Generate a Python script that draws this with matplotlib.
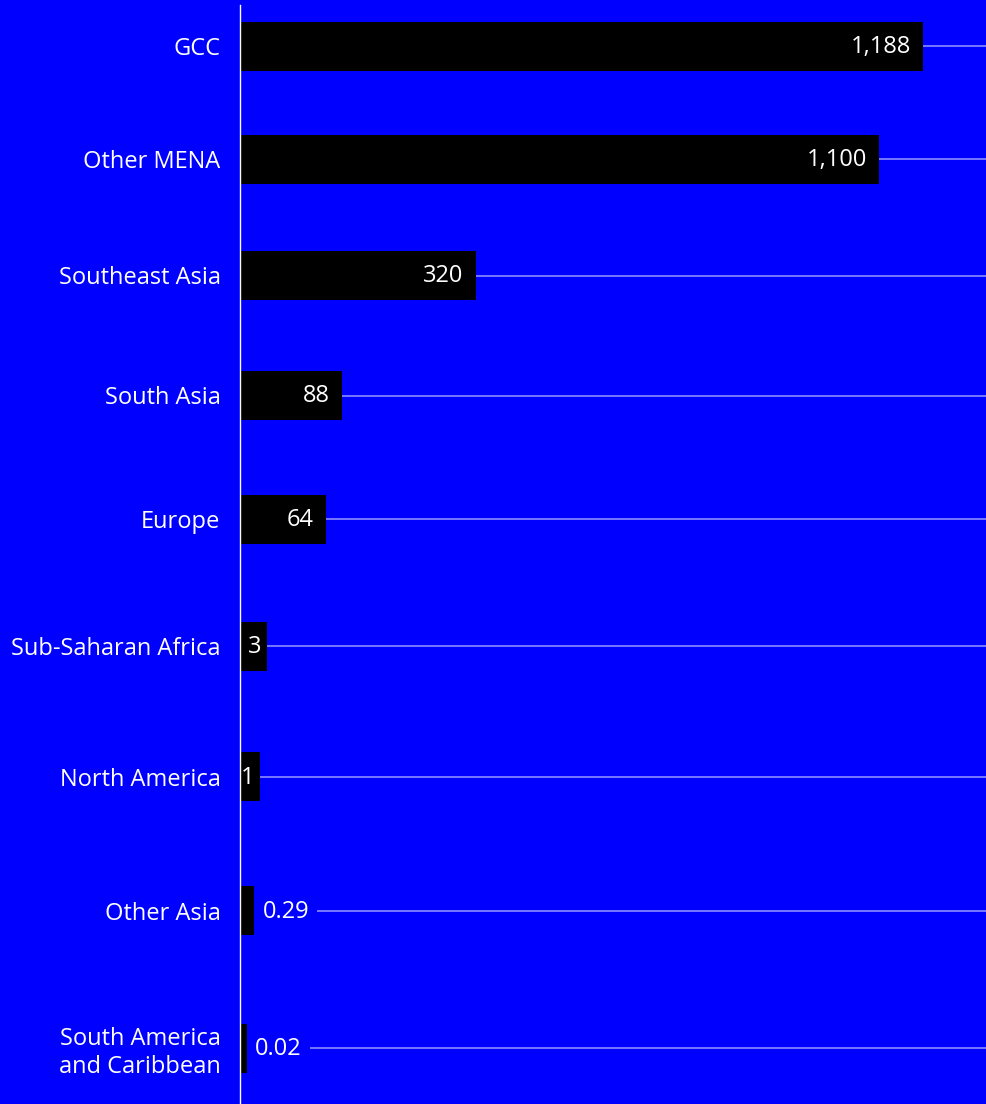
import numpy as np
import matplotlib.pyplot as plt

# ===== DATA =====
regions = [
    "GCC",
    "Other MENA",
    "Southeast Asia",
    "South Asia",
    "Europe",
    "Sub-Saharan Africa",
    "North America",
    "Other Asia",
    "South America\nand Caribbean",
]
values = [1188, 1100, 320, 88, 64, 3, 1, 0.29, 0.02]
value_labels = ["1,188", "1,100", "320", "88", "64", "3", "1", "0.29", "0.02"]

# ===== STYLE =====
bg_color = "#0000FF"
bar_color = "#000000"
text_color = "white"
plt.rcParams["font.family"] = ["Open Sans", "DejaVu Sans"]
font_size = 17

# row layout (pixels): gap between rows widens slightly going down
row_gap = 113
gap_growth = 3.5
bar_height = 49


# compressed scale: small values get stretched so the labels stay readable
def forward(v):
    v = np.clip(np.asarray(v, dtype=float), 0, None)
    return v + 40.8 * np.power(v, 0.25)


_grid = np.linspace(0, 3000, 30001)


def inverse(y):
    return np.interp(y, forward(_grid), _grid)


fig = plt.figure(figsize=(9.86, 11.04), dpi=100, facecolor=bg_color)
ax = fig.add_axes([240 / 986, 0, 746 / 986, 1099 / 1104])
ax.set_facecolor(bg_color)
ax.set_xscale("function", functions=(forward, inverse))

idx = np.arange(len(regions))
rows = row_gap * idx + gap_growth / 2 * idx * (idx - 1)

# gridlines behind the bars
for r in rows:
    ax.axhline(r, color="white", alpha=0.55, lw=1.2, zorder=1)

ax.barh(rows, values, height=bar_height, color=bar_color, zorder=2)

ax.set_xlim(0, inverse(746 / 0.4785))
ax.set_ylim(rows[-1] + 56, -41)

# value labels: inside the bar when there's room, otherwise just after it
for r, v, lab in zip(rows, values, value_labels):
    if v >= 10:
        ax.annotate(lab, (v, r), xytext=(-12, -1), textcoords="offset pixels",
                    ha="right", va="center", color=text_color,
                    fontsize=font_size, zorder=3)
    elif v >= 1:
        ax.annotate(lab, (v, r), xytext=(-6, -1), textcoords="offset pixels",
                    ha="right", va="center", color=text_color,
                    fontsize=font_size, zorder=3)
    else:
        ax.annotate(lab, (v, r), xytext=(8, -1), textcoords="offset pixels",
                    ha="left", va="center", color=text_color,
                    fontsize=font_size, zorder=3,
                    bbox=dict(facecolor=bg_color, edgecolor="none",
                              pad=6))

ax.set_yticks(rows)
ax.set_yticklabels(regions, fontsize=font_size, color=text_color,
                   linespacing=1.22)
ax.tick_params(axis="y", length=0, pad=14)
ax.set_xticks([])
ax.xaxis.set_minor_locator(plt.NullLocator())

for side in ["top", "right", "bottom"]:
    ax.spines[side].set_visible(False)
ax.spines["left"].set_color("white")
ax.spines["left"].set_linewidth(1)

fig.savefig("out.png", dpi=100, facecolor=bg_color)
